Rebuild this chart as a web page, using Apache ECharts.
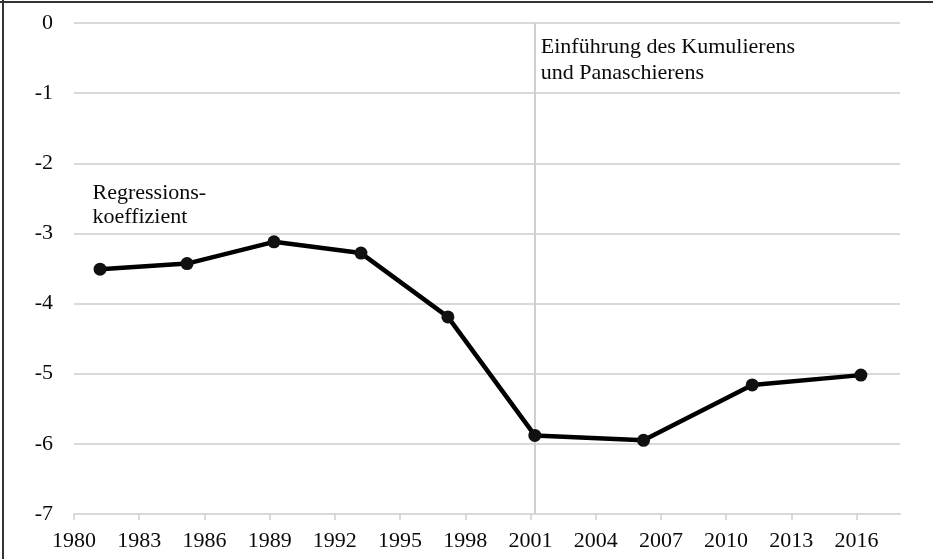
<!DOCTYPE html>
<html>
<head>
<meta charset="utf-8">
<script src="https://cdn.jsdelivr.net/npm/echarts@6/dist/echarts.min.js"></script>
<style>
html,body{margin:0;padding:0;background:#fff;}
#chart{width:933px;height:559px;}
</style>
</head>
<body>
<div id="chart"></div>
<script>
// Election years (decimal, municipal elections in March)
const years = [1981.2, 1985.2, 1989.2, 1993.2, 1997.2, 2001.2, 2006.2, 2011.2, 2016.2];
const coefficients = [-3.51, -3.43, -3.12, -3.28, -4.19, -5.88, -5.95, -5.16, -5.02];
const xTicks = [1980, 1983, 1986, 1989, 1992, 1995, 1998, 2001, 2004, 2007, 2010, 2013, 2016];
const yTicks = [0, -1, -2, -3, -4, -5, -6, -7];
const reformYear = 2001.2;
const reformLabel = 'Einführung des Kumulierens\nund Panaschierens';
const seriesLabel = 'Regressions-\nkoeffizient';

const FONT = '"Liberation Serif", "Times New Roman", serif';
const chart = echarts.init(document.getElementById('chart'), null, {renderer: 'canvas'});

const option = {
  animation: false,
  backgroundColor: '#fff',
  grid: {left: 74, right: 33, top: 23, bottom: 45, containLabel: false},
  xAxis: {
    type: 'value',
    min: 1980, max: 2018, interval: 3,
    axisLine: {show: true, onZero: false, lineStyle: {color: '#d9d9d9', width: 2}},
    axisTick: {show: true, length: 6, customValues: xTicks, lineStyle: {color: '#d0d0d0', width: 1.5}},
    axisLabel: {customValues: xTicks, margin: 16, color: '#0a0a0a', fontFamily: FONT, fontSize: 22,
      formatter: v => String(v)},
    splitLine: {show: false}
  },
  yAxis: {
    type: 'value',
    min: -7, max: 0, interval: 1,
    axisLine: {show: false},
    axisTick: {show: false},
    axisLabel: {margin: 21, color: '#0a0a0a', fontFamily: FONT, fontSize: 22,
      customValues: yTicks},
    splitLine: {show: true, lineStyle: {color: '#d9d9d9', width: 2}}
  },
  series: [{
    type: 'line',
    data: years.map((y, i) => [y, coefficients[i]]),
    symbol: 'circle',
    symbolSize: 13,
    lineStyle: {color: '#000', width: 4.5},
    itemStyle: {color: '#111'},
    z: 5,
    markLine: {
      silent: true,
      symbol: ['none', 'none'],
      label: {show: false},
      lineStyle: {color: '#cfcfcf', width: 2, type: 'solid'},
      data: [{xAxis: reformYear}],
      z: 1
    }
  }]
};
chart.setOption(option);

const pReform = chart.convertToPixel({gridIndex: 0}, [reformYear, -0.53]);
const pLabel = chart.convertToPixel({gridIndex: 0}, [1980.85, -2.6]);
chart.setOption({
  graphic: [
    {type: 'line', shape: {x1: 0, y1: 2, x2: 933, y2: 2}, style: {stroke: '#333', lineWidth: 2}, z: 10},
    {type: 'line', shape: {x1: 3, y1: 0, x2: 3, y2: 559}, style: {stroke: '#333', lineWidth: 2}, z: 10},
    {type: 'text', x: pReform[0] + 6, y: pReform[1], z: 10,
      style: {text: reformLabel, font: '22px ' + FONT, fill: '#0a0a0a', lineHeight: 26, verticalAlign: 'middle', align: 'left'}},
    {type: 'text', x: pLabel[0], y: pLabel[1], z: 10,
      style: {text: seriesLabel, font: '22px ' + FONT, fill: '#0a0a0a', lineHeight: 24, verticalAlign: 'middle', align: 'left'}}
  ]
});
</script>
</body>
</html>
